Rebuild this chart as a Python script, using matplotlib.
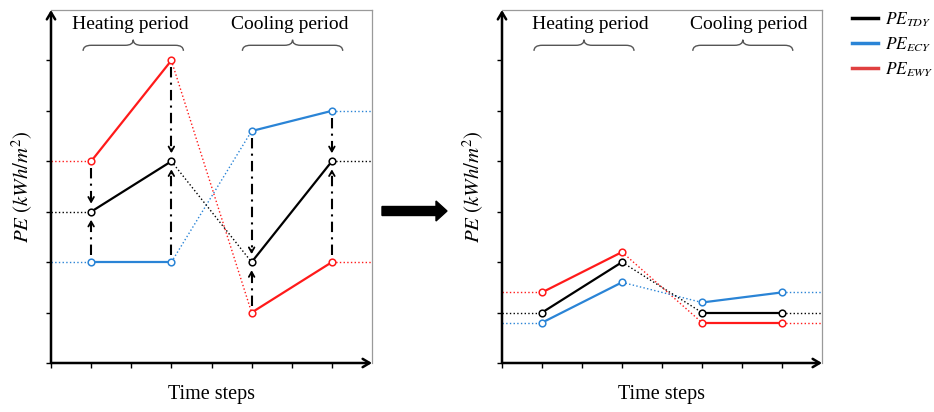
import matplotlib
matplotlib.use("Agg")
import matplotlib.pyplot as plt
from matplotlib.path import Path
from matplotlib.patches import PathPatch, FancyArrow
from matplotlib.lines import Line2D

plt.rcParams['mathtext.fontset'] = 'stix'
plt.rcParams['font.family'] = ['Liberation Serif', 'DejaVu Serif']

# ---- data ----
steps = [1, 3, 5, 7]
left_tdy = [3.0, 4.0, 2.0, 4.0]
left_ecy = [2.0, 2.0, 4.6, 5.0]
left_ewy = [4.0, 6.0, 1.0, 2.0]
right_tdy = [1.0, 2.0, 1.0, 1.0]
right_ecy = [0.8, 1.6, 1.2, 1.4]
right_ewy = [1.4, 2.2, 0.8, 0.8]
series_labels = [r'$PE_{TDY}$', r'$PE_{ECY}$', r'$PE_{EWY}$']
period_labels = ['Heating period', 'Cooling period']
xlabel = 'Time steps'
ylabel = r'$PE\ (kWh/m^2)$'

C_BLACK = '#000000'
C_BLUE = '#2a84d6'
C_RED = '#ff1a1a'
XMAX, YMAX = 8, 7

W, H = 934, 412
fig = plt.figure(figsize=(W / 100, H / 100), dpi=100)


def axes_px(left, right, top, bottom):
    return fig.add_axes([left / W, 1 - bottom / H, (right - left) / W, (bottom - top) / H])


def draw_series(ax, vals, color):
    x0 = 0
    ax.plot([x0, steps[0]], [vals[0], vals[0]], ':', color=color, lw=1.0, zorder=2)
    ax.plot([steps[1], steps[2]], [vals[1], vals[2]], ':', color=color, lw=1.0, zorder=2)
    ax.plot([steps[3], XMAX], [vals[3], vals[3]], ':', color=color, lw=1.0, zorder=2)
    ax.plot(steps[0:2], vals[0:2], '-', color=color, lw=1.6, zorder=3)
    ax.plot(steps[2:4], vals[2:4], '-', color=color, lw=1.6, zorder=3)
    ax.plot(steps, vals, 'o', ms=4.8, mfc='white', mec=color, mew=1.1, ls='none', zorder=5)


def brace(ax, x0, x1, y, h, d):
    xm = (x0 + x1) / 2
    verts = [(x0, y - h), (x0, y), (x0 + d, y),
             (xm - d, y), (xm, y), (xm, y + h),
             (xm, y), (xm + d, y),
             (x1 - d, y), (x1, y), (x1, y - h)]
    codes = [Path.MOVETO, Path.CURVE3, Path.CURVE3,
             Path.LINETO, Path.CURVE3, Path.CURVE3,
             Path.CURVE3, Path.CURVE3,
             Path.LINETO, Path.CURVE3, Path.CURVE3]
    ax.add_patch(PathPatch(Path(verts, codes), fill=False, edgecolor='#555555', lw=1.0,
                           clip_on=False, zorder=4))


def style_axes(ax, heat_x, cool_x):
    ax.set_xlim(0, XMAX)
    ax.set_ylim(0, YMAX)
    for s in ['left', 'bottom']:
        ax.spines[s].set_visible(False)
    for s in ['top', 'right']:
        ax.spines[s].set_color('#9a9a9a')
        ax.spines[s].set_linewidth(0.9)
    ax.set_xticks(range(0, XMAX))
    ax.set_yticks(range(0, YMAX))
    ax.tick_params(axis='both', direction='out', length=3.5, width=1.0, labelbottom=False,
                   labelleft=False, top=False, right=False)
    ax.annotate('', xy=(0, 1.0), xytext=(0, 0), xycoords='axes fraction',
                arrowprops=dict(arrowstyle='->,head_length=0.5,head_width=0.3', lw=1.8,
                                color='k', shrinkA=0, shrinkB=0), zorder=10)
    ax.annotate('', xy=(1.0, 0), xytext=(0, 0), xycoords='axes fraction',
                arrowprops=dict(arrowstyle='->,head_length=0.5,head_width=0.3', lw=1.8,
                                color='k', shrinkA=0, shrinkB=0), zorder=10)
    ax.set_xlabel(xlabel, fontsize=14.5, labelpad=12)
    ax.set_ylabel(ylabel, fontsize=15, labelpad=8)
    ax.text(heat_x, 6.72, period_labels[0], fontsize=14, ha='center', va='center')
    ax.text(cool_x, 6.72, period_labels[1], fontsize=14, ha='center', va='center')
    brace(ax, 0.8, 3.3, 6.30, 0.11, 0.2)
    brace(ax, 4.77, 7.27, 6.30, 0.11, 0.2)


def dash_arrow(ax, x, y_from, y_to):
    s = 1 if y_to > y_from else -1
    start = y_from + s * 0.14
    end = y_to - s * 0.16
    ax.plot([x, x], [start, end - s * 0.06], ls=(0, (5, 2.5, 1, 2.5)), color='k', lw=1.5, zorder=4)
    ax.annotate('', xy=(x, end), xytext=(x, end - s * 0.08),
                arrowprops=dict(arrowstyle='->,head_length=0.35,head_width=0.2', lw=1.3,
                                color='k', shrinkA=0, shrinkB=0), zorder=4)


# ---- left panel ----
ax1 = axes_px(51, 372, 10, 363)
draw_series(ax1, left_ewy, C_RED)
draw_series(ax1, left_ecy, C_BLUE)
draw_series(ax1, left_tdy, C_BLACK)
for i, x in enumerate(steps):
    dash_arrow(ax1, x, left_ewy[i], left_tdy[i])
    dash_arrow(ax1, x, left_ecy[i], left_tdy[i])
style_axes(ax1, 1.98, 5.94)

# ---- right panel ----
ax2 = axes_px(502, 822, 10, 363)
draw_series(ax2, right_ewy, C_RED)
draw_series(ax2, right_ecy, C_BLUE)
draw_series(ax2, right_tdy, C_BLACK)
style_axes(ax2, 2.22, 6.18)

# ---- big arrow between panels ----
fig.patches.append(FancyArrow(382 / W, 1 - 211 / H, 65 / W, 0, width=9 / H, head_width=20 / H,
                              head_length=11 / W, length_includes_head=True,
                              transform=fig.transFigure, color='k', figure=fig))

# ---- legend ----
handles = [Line2D([], [], color=C_BLACK, lw=2.5),
           Line2D([], [], color=C_BLUE, lw=2.5),
           Line2D([], [], color='#e04040', lw=2.5)]
fig.legend(handles, series_labels, loc='upper left', bbox_to_anchor=(849 / W, 1 - 7 / H),
           frameon=False, fontsize=12.5, handlelength=1.45, handletextpad=0.45,
           labelspacing=0.38, borderaxespad=0, borderpad=0.2)

fig.savefig('out.png', dpi=100)
